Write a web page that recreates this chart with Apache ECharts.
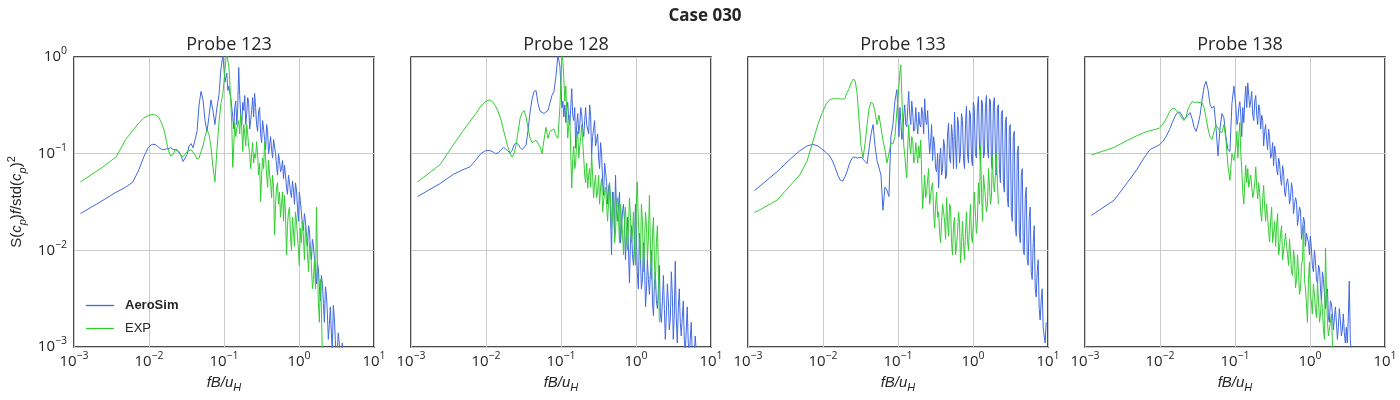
<!DOCTYPE html>
<html><head><meta charset="utf-8">
<script src="https://cdn.jsdelivr.net/npm/echarts@6/dist/echarts.min.js"></script>
<style>html,body{margin:0;padding:0;background:#fff}#c{width:1400px;height:400px}</style>
</head><body><div id="c"></div>
<script>
// ---- data ----
const suptitle = 'Case 030';
const probes = ['Probe 123', 'Probe 128', 'Probe 133', 'Probe 138'];
const seriesNames = ['AeroSim', 'EXP'];
const xTickValues = [0.001, 0.01, 0.1, 1, 10];
const yTickValues = [0.001, 0.01, 0.1, 1];

// fB/uH  (main sampling)
const freq = [
0.00122,0.00244,0.00366,0.00488,0.0061,0.00732,0.00854,0.00977,0.011,0.0122,
0.0134,0.0146,0.0159,0.0171,0.0183,0.0195,0.021,0.0223,0.0237,0.0252,
0.0268,0.0285,0.0303,0.0322,0.0342,0.0364,0.0387,0.0411,0.0437,0.0465,
0.0494,0.0525,0.0558,0.0593,0.063,0.067,0.0712,0.0757,0.0805,0.0856,
0.091,0.0967,0.103,0.109,0.116,0.123,0.131,0.139,0.148,0.157,
0.167,0.178,0.189,0.201,0.213,0.227,0.241,0.256,0.272,0.289,
0.308,0.327,0.348,0.37,0.393,0.418,0.444,0.472,0.502,0.533,
0.567,0.603,0.641,0.681,0.724,0.77,0.818,0.87,0.925,0.983,
1.04,1.11,1.18,1.26,1.34,1.42,1.51,1.61,1.71,1.81,
1.93,2.05,2.18,2.32,2.46,2.62,2.78,2.96,3.14,3.34,
3.55,3.78,4.01,4.27,4.54,4.82,5.13,5.45,5.79,6.16,
6.55,6.96,7.4,7.86,8.36,8.89,9.45];
// fB/uH  (extra samples in the noisy high-frequency range)
const freqMid = [
0.106,0.1125,0.1195,0.127,0.135,0.1435,0.1525,0.162,0.1725,0.1835,
0.195,0.207,0.22,0.234,0.2485,0.264,0.2805,0.2985,0.3175,0.3375,
0.359,0.3815,0.4055,0.431,0.458,0.487,0.5175,0.55,0.585,0.622,
0.661,0.7025,0.747,0.794,0.844,0.8975,0.954,1.01,1.075,1.145,
1.22,1.3,1.38,1.465,1.56,1.66,1.76,1.87,1.99,2.115,
2.25,2.39,2.54,2.7,2.87,3.05,3.24,3.445,3.665,3.895,
4.14,4.405,4.68,4.975,5.29,5.62,5.975,6.355,6.755,7.18,
7.63,8.11,8.625,9.17];

const p123_aerosim = [
0.024,0.033,0.040,0.045,0.051,0.068,0.093,0.116,0.125,0.124,
0.117,0.111,0.11,0.112,0.113,0.115,0.11,0.108,0.11,0.105,
0.095,0.083,0.081,0.098,0.12,0.127,0.115,0.11,0.17,0.32,
0.44,0.36,0.22,0.17,0.24,0.36,0.28,0.2,0.3,0.4,
0.75,1.05,0.55,0.68,0.5,0.38,0.24,0.3,0.2,0.78,
0.25,0.34,0.4,0.26,0.34,0.22,0.38,0.42,0.2,0.27,
0.16,0.22,0.14,0.2,0.1,0.15,0.09,0.12,0.075,0.1,
0.065,0.085,0.076,0.045,0.06,0.04,0.052,0.03,0.042,0.02,
0.033,0.018,0.024,0.014,0.018,0.01,0.013,0.008,0.0045,0.0065,
0.003,0.0045,0.0018,0.0035,0.0012,0.0026,0.0009,0.002,0.0007,0.0014,
0.0006,0.0011,0.0005];
const p123_aerosim_mid = [
0.62,0.45,0.42,0.3,0.18,0.35,0.3,0.4,0.2,0.28,
0.2,0.38,0.18,0.28,0.24,0.3,0.17,0.3,0.13,0.18,
0.11,0.17,0.12,0.11,0.14,0.1,0.06,0.085,0.07,0.055,
0.06,0.038,0.05,0.035,0.042,0.05,0.028,0.04,0.025,0.016,
0.02,0.011,0.016,0.008,0.011,0.006,0.0075,0.0042,0.0055,0.0028,
0.0042,0.0022,0.0017,0.0014,0.0027,0.0012,0.0009,0.0011,0.0008,0.0007];
const p123_exp = [
0.051,0.073,0.093,0.14,0.174,0.208,0.234,0.248,0.254,0.251,
0.24,0.21,0.176,0.133,0.105,0.095,0.098,0.11,0.11,0.105,
0.095,0.093,0.097,0.105,0.11,0.11,0.105,0.097,0.088,0.09,
0.105,0.12,0.15,0.176,0.16,0.118,0.073,0.051,0.11,0.206,
0.33,0.42,0.73,1.05,0.8,0.35,0.072,0.21,0.18,0.22,
0.26,0.105,0.16,0.2,0.12,0.07,0.13,0.1,0.133,0.06,
0.032,0.09,0.133,0.06,0.085,0.05,0.06,0.0145,0.045,0.03,
0.022,0.04,0.037,0.009,0.025,0.014,0.022,0.011,0.02,0.01,
0.017,0.02,0.008,0.013,0.006,0.01,0.004,0.008,0.028,0.003,
0.005,0.0008];
const p123_exp_mid = [
0.95,1.1,0.55,0.2,0.12,0.15,0.2,0.16,0.18,0.2,
0.12,0.16,0.1,0.1,0.08,0.09,0.1,0.08,0.06,0.07,
0.09,0.045,0.06,0.035,0.045,0.03,0.05,0.04,0.03,0.02,
0.025,0.018,0.028,0.01,0.016,0.025,0.014,0.007,0.012,0.014,
0.018,0.009,0.012,0.007,0.005,0.004,0.008,0.0018,0.0025];

const p128_aerosim = [
0.036,0.049,0.061,0.068,0.073,0.086,0.1,0.107,0.108,0.105,
0.1,0.102,0.11,0.116,0.112,0.107,0.102,0.108,0.123,0.13,
0.125,0.116,0.11,0.11,0.123,0.176,0.27,0.365,0.44,0.45,
0.33,0.276,0.265,0.26,0.27,0.28,0.27,0.4,0.44,0.63,
1.05,0.8,0.3,0.24,0.21,0.34,0.2,0.47,0.22,0.114,
0.26,0.2,0.25,0.15,0.3,0.2,0.32,0.097,0.18,0.12,
0.16,0.07,0.1,0.037,0.065,0.03,0.05,0.009,0.035,0.06,
0.02,0.04,0.012,0.03,0.008,0.022,0.0046,0.018,0.007,0.03,
0.006,0.015,0.004,0.012,0.0026,0.008,0.0035,0.01,0.0021,0.006,
0.0025,0.007,0.0018,0.0055,0.0012,0.0045,0.0015,0.006,0.0012,0.0077,
0.0011,0.004,0.0013,0.003,0.0009,0.0026,0.0008,0.0018,0.0007,0.0013,
0.0006];
const p128_aerosim_mid = [
0.35,0.32,0.3,0.22,0.3,0.25,0.3,0.2,0.16,0.3,
0.18,0.22,0.2,0.16,0.25,0.15,0.22,0.14,0.09,0.13,
0.05,0.08,0.05,0.045,0.022,0.04,0.015,0.025,0.03,0.012,
0.025,0.02,0.015,0.01,0.012,0.009,0.012,0.015,0.004,0.009,
0.005,0.007,0.004,0.005,0.006,0.0028,0.0045,0.003,0.004,0.0022,
0.003,0.0025,0.0022,0.003,0.002,0.0035,0.0022,0.002,0.0025,0.0018,
0.002,0.0012,0.0015,0.0011,0.0012,0.0009,0.0008,0.0009];
const p128_exp = [
0.051,0.077,0.123,0.17,0.216,0.26,0.31,0.345,0.36,0.345,
0.31,0.27,0.223,0.176,0.144,0.118,0.1,0.092,0.1,0.123,
0.17,0.232,0.265,0.28,0.24,0.183,0.144,0.13,0.133,0.138,
0.14,0.118,0.1,0.138,0.187,0.144,0.17,0.17,0.18,0.155,
0.144,0.306,1.05,0.6,0.5,0.145,0.25,0.044,0.12,0.08,
0.17,0.12,0.2,0.09,0.05,0.044,0.07,0.1,0.035,0.06,
0.04,0.03,0.055,0.025,0.045,0.02,0.05,0.017,0.04,0.015,
0.035,0.012,0.03,0.009,0.028,0.01,0.035,0.012,0.025,0.007,
0.051,0.012,0.03,0.006,0.025,0.008,0.037,0.005,0.022,0.004,
0.018,0.0018];
const p128_exp_mid = [
0.9,0.35,0.25,0.2,0.1,0.09,0.07,0.14,0.09,0.15,
0.13,0.06,0.08,0.06,0.045,0.06,0.05,0.035,0.06,0.045,
0.025,0.04,0.03,0.02,0.035,0.025,0.012,0.03,0.02,0.03,
0.015,0.02,0.015,0.018,0.022,0.015,0.01,0.03,0.02,0.008,
0.02,0.012,0.018,0.014,0.01,0.015,0.008,0.012,0.006];

const p133_aerosim = [
0.0415,0.065,0.088,0.107,0.12,0.125,0.12,0.111,0.103,0.095,
0.084,0.071,0.059,0.053,0.052,0.057,0.066,0.077,0.086,0.092,
0.092,0.09,0.09,0.092,0.09,0.083,0.079,0.078,0.16,0.2,
0.12,0.085,0.082,0.06,0.026,0.045,0.042,0.036,0.15,0.2,
0.35,0.46,0.15,0.22,0.16,0.32,0.19,0.44,0.2,0.27,
0.18,0.21,0.27,0.19,0.26,0.37,0.2,0.16,0.13,0.085,
0.12,0.065,0.044,0.114,0.07,0.12,0.06,0.206,0.08,0.15,
0.27,0.07,0.2,0.1,0.22,0.07,0.31,0.08,0.25,0.075,
0.3,0.09,0.39,0.08,0.33,0.1,0.4,0.09,0.35,0.07,
0.38,0.06,0.32,0.05,0.28,0.04,0.24,0.028,0.2,0.02,
0.17,0.014,0.12,0.012,0.07,0.009,0.045,0.007,0.028,0.005,
0.018,0.0033,0.008,0.0019,0.004,0.0013,0.0018];
const p133_aerosim_mid = [
0.3,0.14,0.25,0.2,0.3,0.25,0.35,0.17,0.3,0.16,
0.2,0.3,0.16,0.22,0.28,0.1,0.2,0.15,0.07,0.1,
0.09,0.06,0.14,0.055,0.16,0.09,0.2,0.07,0.12,0.24,
0.08,0.26,0.09,0.2,0.1,0.28,0.09,0.34,0.1,0.3,
0.12,0.36,0.09,0.3,0.11,0.37,0.08,0.33,0.1,0.3,
0.07,0.26,0.05,0.21,0.035,0.18,0.025,0.15,0.018,0.1,
0.015,0.06,0.01,0.035,0.008,0.022,0.006,0.012,0.004,0.006,
0.0025,0.003,0.0016,0.0011];
const p133_exp = [
0.0245,0.033,0.047,0.06,0.083,0.133,0.2,0.266,0.324,0.36,
0.37,0.37,0.37,0.37,0.365,0.37,0.43,0.47,0.54,0.59,
0.57,0.42,0.22,0.118,0.09,0.128,0.2,0.295,0.34,0.33,
0.27,0.2,0.25,0.26,0.138,0.11,0.08,0.1,0.13,0.126,
0.15,0.28,0.5,0.83,0.2,0.097,0.056,0.2,0.1,0.14,
0.09,0.1,0.12,0.138,0.027,0.06,0.04,0.07,0.03,0.05,
0.017,0.04,0.025,0.012,0.03,0.02,0.035,0.014,0.028,0.009,
0.022,0.011,0.025,0.0074,0.02,0.008,0.025,0.01,0.03,0.012,
0.04,0.015,0.05,0.123,0.02,0.06,0.025,0.07,0.03,0.097,
0.04,0.1,0.03];
const p133_exp_mid = [
0.7,0.4,0.12,0.07,0.12,0.12,0.15,0.08,0.13,0.08,
0.09,0.06,0.04,0.035,0.055,0.03,0.045,0.025,0.03,0.022,
0.015,0.02,0.025,0.013,0.02,0.03,0.012,0.018,0.009,0.015,
0.02,0.011,0.012,0.015,0.013,0.018,0.014,0.02,0.025,0.02,
0.03,0.04,0.06,0.035,0.03,0.045,0.035,0.05,0.06,0.05];

const p138_aerosim = [
0.023,0.033,0.05,0.068,0.09,0.11,0.117,0.123,0.135,0.153,
0.178,0.21,0.245,0.266,0.27,0.25,0.225,0.225,0.25,0.266,
0.23,0.187,0.17,0.2,0.25,0.36,0.49,0.56,0.46,0.32,
0.295,0.31,0.19,0.095,0.18,0.26,0.235,0.15,0.11,0.105,
0.33,0.5,0.3,0.22,0.345,0.15,0.21,0.5,0.54,0.3,
0.44,0.22,0.4,0.2,0.3,0.25,0.12,0.2,0.11,0.15,
0.097,0.075,0.1,0.06,0.08,0.047,0.065,0.036,0.055,0.03,
0.05,0.024,0.035,0.018,0.028,0.013,0.022,0.011,0.015,0.009,
0.011,0.006,0.008,0.0045,0.0065,0.003,0.005,0.0025,0.004,0.0018,
0.0028,0.0015,0.0026,0.0012,0.0025,0.0013,0.0022,0.0011,0.0011,0.0048,
0.0009];
const p138_aerosim_mid = [
0.2,0.3,0.25,0.3,0.35,0.3,0.4,0.35,0.25,0.35,
0.25,0.32,0.18,0.22,0.17,0.14,0.18,0.09,0.13,0.12,
0.07,0.09,0.055,0.075,0.04,0.05,0.045,0.035,0.042,0.03,
0.032,0.022,0.026,0.016,0.02,0.015,0.012,0.014,0.007,0.01,
0.005,0.007,0.004,0.006,0.0035,0.0038,0.002,0.003,0.0022,0.002,
0.0018,0.0016,0.0019,0.0015,0.0014,0.0016,0.002,0.0012];
const p138_exp = [
0.097,0.116,0.137,0.153,0.165,0.173,0.178,0.183,0.203,0.232,
0.27,0.295,0.29,0.27,0.255,0.232,0.22,0.24,0.29,0.32,
0.345,0.34,0.34,0.34,0.335,0.335,0.3,0.235,0.18,0.148,
0.14,0.17,0.2,0.2,0.17,0.165,0.2,0.14,0.075,0.053,
0.1,0.085,0.12,0.09,0.21,0.07,0.03,0.076,0.07,0.045,
0.06,0.04,0.073,0.034,0.04,0.02,0.047,0.02,0.03,0.0122,
0.028,0.015,0.011,0.024,0.0106,0.018,0.008,0.015,0.009,0.013,
0.006,0.01,0.0041,0.009,0.0035,0.007,0.018,0.004,0.0018,0.0076,
0.003,0.0045,0.0025,0.0047,0.0018,0.0031,0.0015,0.0106,0.0018,0.0013,
0.0022,0.0009];
const p138_exp_mid = [
0.17,0.15,0.1,0.04,0.05,0.05,0.045,0.06,0.035,0.05,
0.045,0.05,0.025,0.035,0.028,0.03,0.016,0.02,0.012,0.02,
0.018,0.009,0.015,0.008,0.012,0.011,0.007,0.009,0.0055,0.008,
0.005,0.006,0.004,0.008,0.005,0.0028,0.005,0.0035,0.0022,0.0035,
0.002,0.003,0.0022,0.0025,0.0012,0.0035,0.0013,0.0018,0.0011];

const panelData = [
  [[p123_aerosim, p123_aerosim_mid], [p123_exp, p123_exp_mid]],
  [[p128_aerosim, p128_aerosim_mid], [p128_exp, p128_exp_mid]],
  [[p133_aerosim, p133_aerosim_mid], [p133_exp, p133_exp_mid]],
  [[p138_aerosim, p138_aerosim_mid], [p138_exp, p138_exp_mid]]
];

// ---- chart ----
const colors = ['#4169E1', '#32CD32'];
const lefts = [74, 411, 748, 1085];
const W = 300, TOP = 57, H = 290;
const tickFont = 'Open Sans';
const txt = '#262626';

function powLabel(v) {
  const e = Math.round(Math.log10(v));
  return '{b|10}{s|' + (e < 0 ? '\u2212' + (-e) : String(e)) + '}';
}
const tickRich = {
  b: { fontSize: 15, fontFamily: tickFont, color: txt, lineHeight: 22 },
  s: { fontSize: 10.5, fontFamily: tickFont, color: txt, verticalAlign: 'top', lineHeight: 12 }
};

function pairs(main, mid) {
  const a = main.map((v, j) => [freq[j], v]);
  const b = mid.map((v, j) => [freqMid[j], v]);
  return a.concat(b).sort((p, q) => p[0] - q[0]);
}

const grids = [], xAxes = [], yAxes = [], series = [], titles = [];
titles.push({ text: suptitle, left: 700, top: 3, textAlign: 'center',
  textStyle: { fontSize: 17, fontWeight: 'bold', color: txt, fontFamily: tickFont } });

lefts.forEach((L, i) => {
  grids.push({ left: L, top: TOP, width: W, height: H, show: true,
    borderColor: '#111111', borderWidth: 1.5, backgroundColor: 'transparent', containLabel: false });
  titles.push({ text: probes[i], left: L + W / 2, top: 31, textAlign: 'center',
    textStyle: { fontSize: 18, fontWeight: 'normal', color: txt, fontFamily: tickFont } });
  xAxes.push({
    type: 'log', logBase: 10, gridIndex: i, min: 0.001, max: 10,
    axisLine: { show: false }, axisTick: { show: false }, minorTick: { show: false },
    splitLine: { show: true, lineStyle: { color: '#cbcbcb', width: 1 } },
    axisLabel: { show: true, margin: 4, formatter: powLabel, rich: tickRich,
      customValues: xTickValues },
    name: '{i|fB/u}{sb|H}', nameLocation: 'middle', nameGap: 26,
    nameTextStyle: { rich: {
      i: { fontSize: 15, fontStyle: 'italic', fontFamily: 'Liberation Sans', color: txt, lineHeight: 20 },
      sb: { fontSize: 11, fontStyle: 'italic', fontFamily: 'Liberation Sans', color: txt, verticalAlign: 'bottom', lineHeight: 13 }
    } }
  });
  yAxes.push({
    type: 'log', logBase: 10, gridIndex: i, min: 0.001, max: 1,
    axisLine: { show: false }, axisTick: { show: false }, minorTick: { show: false },
    splitLine: { show: true, lineStyle: { color: '#cbcbcb', width: 1 } },
    axisLabel: { show: i === 0, margin: 7, formatter: powLabel, rich: tickRich,
      customValues: yTickValues },
    name: i === 0 ? '{n|S(}{i|c}{sb|p}{n|)}{i|f}{n|/std(}{i|c}{sb|p}{n|)}{sp|2}' : '',
    nameLocation: 'middle', nameGap: 46, nameRotate: 90,
    nameTextStyle: { rich: {
      n: { fontSize: 15, fontFamily: 'Liberation Sans', color: txt, lineHeight: 22 },
      i: { fontSize: 15, fontStyle: 'italic', fontFamily: 'Liberation Sans', color: txt, lineHeight: 22 },
      sb: { fontSize: 11, fontStyle: 'italic', fontFamily: 'Liberation Sans', color: txt, verticalAlign: 'bottom', lineHeight: 12 },
      sp: { fontSize: 11, fontFamily: 'Liberation Sans', color: txt, verticalAlign: 'top', lineHeight: 12 }
    } }
  });
  panelData[i].forEach((vals, k) => {
    series.push({
      name: seriesNames[k], type: 'line', xAxisIndex: i, yAxisIndex: i,
      data: pairs(vals[0], vals[1]),
      symbol: 'none', showSymbol: false, clip: true,
      lineStyle: { color: colors[k], width: 1 }, itemStyle: { color: colors[k] },
      emphasis: { disabled: true }, animation: false, z: 2 + k
    });
  });
});

const chart = echarts.init(document.getElementById('c'), null, { renderer: 'canvas' });
chart.setOption({
  animation: false,
  backgroundColor: '#ffffff',
  title: titles,
  grid: grids,
  xAxis: xAxes,
  yAxis: yAxes,
  legend: {
    left: 81, top: 294, orient: 'vertical', itemWidth: 28, itemHeight: 1.3, itemGap: 10,
    icon: 'rect',
    data: [{ name: 'AeroSim', textStyle: { fontWeight: 'bold' } }, { name: 'EXP' }],
    textStyle: { fontFamily: 'Liberation Sans', fontSize: 13, color: txt, padding: [0, 0, 0, 6] },
    selectedMode: false
  },
  series: series
});
</script></body></html>
